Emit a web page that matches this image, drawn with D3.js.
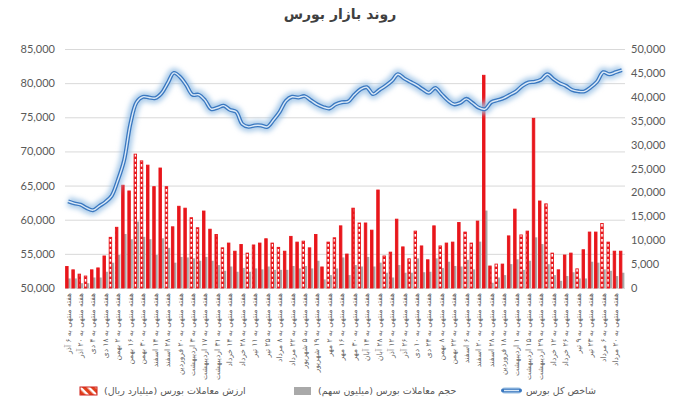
<!DOCTYPE html>
<html>
<head>
<meta charset="utf-8">
<script src="https://cdn.jsdelivr.net/npm/d3@7"></script>
<style>
  body { margin: 0; background: #fff; }
  svg text { fill: #595959; }
</style>
</head>
<body>
<svg id="chart" width="679" height="397"></svg>
<script>
// weekly categories (every other one is shown on the axis)
var weeks = [
  "۶ آذر", "۱۳ آذر", "۲۰ آذر", "۲۷ آذر", "۴ دی", "۱۱ دی", "۱۸ دی", "۲۵ دی",
  "۲ بهمن", "۹ بهمن", "۱۶ بهمن", "۲۳ بهمن", "۳۰ بهمن", "۷ اسفند", "۱۴ اسفند", "۲۱ اسفند",
  "۲۸ اسفند", "۱۳ فروردین", "۲۰ فروردین", "۲۷ فروردین", "۳ اردیبهشت", "۱۰ اردیبهشت",
  "۱۷ اردیبهشت", "۲۴ اردیبهشت", "۳۱ اردیبهشت", "۷ خرداد", "۱۴ خرداد", "۲۱ خرداد",
  "۲۸ خرداد", "۴ تیر", "۱۱ تیر", "۱۸ تیر", "۲۵ تیر", "۱ مرداد", "۸ مرداد", "۱۵ مرداد",
  "۲۲ مرداد", "۲۹ مرداد", "۵ شهریور", "۱۲ شهریور", "۱۹ شهریور", "۲۶ شهریور", "۲ مهر",
  "۹ مهر", "۱۶ مهر", "۲۳ مهر", "۳۰ مهر", "۷ آبان", "۱۴ آبان", "۲۱ آبان", "۲۸ آبان",
  "۵ آذر", "۱۲ آذر", "۱۹ آذر", "۲۶ آذر", "۳ دی", "۱۰ دی", "۱۷ دی", "۲۴ دی", "۱ بهمن",
  "۸ بهمن", "۱۵ بهمن", "۲۲ بهمن", "۲۹ بهمن", "۶ اسفند", "۱۳ اسفند", "۲۰ اسفند", "۲۴ اسفند",
  "۲۸ اسفند", "۱۱ فروردین", "۱۸ فروردین", "۲۵ فروردین", "۱ اردیبهشت", "۸ اردیبهشت",
  "۱۵ اردیبهشت", "۲۲ اردیبهشت", "۲۹ اردیبهشت", "۵ خرداد", "۱۲ خرداد", "۱۹ خرداد",
  "۲۶ خرداد", "۲ تیر", "۹ تیر", "۱۶ تیر", "۲۳ تیر", "۳۰ تیر", "۶ مرداد", "۱۳ مرداد",
  "۲۰ مرداد", "۲۷ مرداد"
];

// شاخص کل بورس (left axis)
var indexValues = [
  62700, 62400, 62200, 61700, 61400, 62000, 62600, 63500, 65800, 68700,
  74000, 77200, 78000, 77900, 77800, 78500, 80000, 81500, 80900, 79700,
  78300, 78300, 77500, 76200, 76400, 76700, 76100, 75800, 74000, 73600,
  73800, 73800, 73600, 74600, 75800, 77400, 78000, 77900, 78100, 77500,
  76900, 76500, 76300, 76900, 77200, 77300, 78300, 79100, 79400, 78400,
  79000, 79600, 80300, 81300, 80700, 80200, 79700, 79100, 78600, 79300,
  78400, 77500, 76900, 77100, 77700, 77100, 76400, 76200, 77200, 77500,
  77800, 78300, 78800, 79600, 80100, 80200, 80500, 81300, 80600, 80000,
  79600, 79000, 78800, 78800, 79400, 80200, 81600, 81300, 81600, 81900
];

// ارزش معاملات بورس (میلیارد ریال) (right axis)
var tradeValue = [
  4500, 3800, 2900, 2500, 3800, 4200, 6700, 10600, 12700, 21500,
  20300, 28000, 26600, 25700, 21200, 25100, 21200, 12800, 17100, 16700,
  14700, 12600, 16100, 12300, 11200, 8400, 9400, 7700, 9100, 7300,
  9000, 9400, 10300, 9400, 8500, 7700, 10800, 9600, 9800, 8400,
  11200, 4400, 9600, 10500, 13000, 7100, 16700, 13600, 13600, 12100,
  20500, 6700, 7500, 14400, 8600, 6100, 11900, 8800, 5900, 13000,
  8800, 9400, 9600, 13700, 11700, 9400, 14000, 44500, 4600, 5000,
  5000, 10900, 16500, 11100, 11900, 35500, 18200, 17600, 7300, 3800,
  6900, 7300, 4000, 8000, 11700, 11700, 13500, 9600, 7700, 7700
];

// حجم معاملات بورس (میلیون سهم) (right axis)
var tradeVolume = [
  2000, 2000, 1000, 1000, 2200, 2200, 3400, 5300, 6900, 11300,
  10200, 13900, 10700, 10200, 6900, 10400, 8400, 5300, 6500, 6400,
  6200, 5700, 6500, 5700, 4800, 3600, 4500, 3400, 4200, 3400,
  4100, 3900, 4500, 3800, 3800, 3800, 4600, 4100, 4600, 4100,
  5700, 1800, 2700, 4100, 6400, 2700, 4800, 4500, 6500, 4500,
  5300, 3200, 2200, 4800, 3200, 3200, 6200, 3300, 3400, 6200,
  4200, 5500, 4600, 4500, 5900, 3900, 9700, 16200, 1100, 2200,
  2700, 5000, 6000, 3800, 5700, 10600, 9200, 5000, 2700, 1500,
  2500, 3300, 2000, 2000, 5500, 5300, 3900, 3600, 2500, 3200
];

var leftTicks = [50000, 55000, 60000, 65000, 70000, 75000, 80000, 85000];
var rightTicks = [0, 5000, 10000, 15000, 20000, 25000, 30000, 35000, 40000, 45000, 50000];

var title = "روند بازار بورس";
var labelPrefix = "هفته منتهی به ";
var legendNames = ["ارزش معاملات بورس (میلیارد ریال)", "حجم معاملات بورس (میلیون سهم)", "شاخص کل بورس"];

var width = 679, height = 397;
var margin = { top: 49, right: 54, bottom: 109, left: 65 };
var plotW = width - margin.left - margin.right;
var plotH = height - margin.top - margin.bottom;
var persianFont = "'DejaVu Sans', sans-serif";
var numFont = "Lato, 'Liberation Sans', sans-serif";
var red = "#e8161b";

var svg = d3.select("#chart");
var defs = svg.append("defs");

// hatch used inside the narrow bars
var hatch = defs.append("pattern")
  .attr("id", "hatch")
  .attr("patternUnits", "userSpaceOnUse")
  .attr("x", 69.6).attr("y", 0)
  .attr("width", 27.4).attr("height", 5);
hatch.append("rect").attr("width", 27.4).attr("height", 5).attr("fill", red);
hatch.append("rect").attr("width", 8.5).attr("height", 2.6).attr("fill", "#fff");

// diagonal stripes for the legend swatch
var stripes = defs.append("pattern")
  .attr("id", "stripes")
  .attr("patternUnits", "userSpaceOnUse")
  .attr("width", 6).attr("height", 6)
  .attr("patternTransform", "rotate(-45)");
stripes.append("rect").attr("width", 6).attr("height", 6).attr("fill", "#fff");
stripes.append("rect").attr("width", 3.5).attr("height", 6).attr("fill", "#e0401c");

var glow = defs.append("filter").attr("id", "glow")
  .attr("x", "-5%").attr("y", "-20%").attr("width", "110%").attr("height", "140%");
glow.append("feGaussianBlur").attr("stdDeviation", 2.8);

// title
svg.append("text")
  .attr("x", 340).attr("y", 19)
  .attr("text-anchor", "middle")
  .style("font-family", persianFont)
  .style("font-size", "14px")
  .style("font-weight", "bold")
  .style("fill", "#404040")
  .text(title);

var g = svg.append("g").attr("transform", "translate(" + margin.left + "," + margin.top + ")");

// scales
var x = d3.scaleBand().domain(d3.range(weeks.length)).range([0, plotW])
  .paddingInner(0.2).paddingOuter(0.1);
var xSub = d3.scaleBand().domain(["value", "volume"]).range([0, x.bandwidth()]);
var yLeft = d3.scaleLinear().domain([50000, 85000]).range([plotH, 0]);
var yRight = d3.scaleLinear().domain([0, 50000]).range([plotH, 0]);

// gridlines
g.append("g")
  .call(d3.axisLeft(yLeft).tickValues(leftTicks).tickSize(-plotW).tickFormat(""))
  .call(s => s.select(".domain").remove())
  .call(s => s.selectAll("line").attr("stroke", "#d9d9d9"));

// left axis
g.append("g")
  .call(d3.axisLeft(yLeft).tickValues(leftTicks).tickSize(0).tickPadding(10).tickFormat(d3.format(",")))
  .call(s => s.select(".domain").remove())
  .call(s => s.selectAll("text").style("font-family", numFont).style("font-size", "11px").style("fill", "#595959"));

// right axis
g.append("g")
  .attr("transform", "translate(" + plotW + ",0)")
  .call(d3.axisRight(yRight).tickValues(rightTicks).tickSize(0).tickPadding(6).tickFormat(d3.format(",")))
  .call(s => s.select(".domain").remove())
  .call(s => s.selectAll("text").style("font-family", numFont).style("font-size", "11px").style("fill", "#595959"));

// bottom axis labels
g.append("g")
  .attr("transform", "translate(0," + plotH + ")")
  .call(d3.axisBottom(x)
    .tickValues(d3.range(0, weeks.length, 2))
    .tickSize(0)
    .tickFormat(i => labelPrefix + weeks[i]))
  .call(s => s.select(".domain").remove())
  .call(s => s.selectAll("text")
    .attr("transform", "translate(0,5) rotate(-90)")
    .attr("x", 0).attr("y", 0).attr("dy", "0.32em")
    .attr("text-anchor", "end")
    .style("font-family", persianFont)
    .style("font-size", "7.5px")
    .style("fill", "#666"));

// bars
var bars = g.append("g");
bars.selectAll(".vol")
  .data(tradeVolume)
  .join("rect")
  .attr("class", "vol")
  .attr("x", (d, i) => x(i) + xSub("volume"))
  .attr("width", xSub.bandwidth())
  .attr("y", d => yRight(d))
  .attr("height", d => plotH - yRight(d))
  .attr("fill", "#a9a9a9");

bars.selectAll(".val")
  .data(tradeValue)
  .join("rect")
  .attr("class", "val")
  .attr("x", (d, i) => x(i) + xSub("value"))
  .attr("width", xSub.bandwidth())
  .attr("y", d => yRight(d))
  .attr("height", d => plotH - yRight(d))
  .attr("fill", "url(#hatch)")
  .attr("stroke", red)
  .attr("stroke-width", 0.9);

// index line
var line = d3.line()
  .x((d, i) => x(i) + x.bandwidth() / 2)
  .y(d => yLeft(d))
  .curve(d3.curveCatmullRom.alpha(0.5));

g.append("path").datum(indexValues)
  .attr("d", line).attr("fill", "none")
  .attr("stroke", "#9dc3e6").attr("stroke-width", 10).attr("stroke-opacity", 0.85)
  .attr("filter", "url(#glow)");
g.append("path").datum(indexValues)
  .attr("d", line).attr("fill", "none")
  .attr("stroke", "#3a78c0").attr("stroke-width", 4);
g.append("path").datum(indexValues)
  .attr("d", line).attr("fill", "none")
  .attr("stroke", "#dbe9f7").attr("stroke-width", 1.4);

// legend
var legend = svg.append("g").style("font-family", persianFont).style("font-size", "9.5px");
var items = [
  { name: legendNames[0], sx: 80, tx: 104, kind: "value" },
  { name: legendNames[1], sx: 294, tx: 318, kind: "volume" },
  { name: legendNames[2], sx: 503, tx: 526, kind: "index" }
];
items.forEach(function(it) {
  if (it.kind === "value") {
    legend.append("rect").attr("x", it.sx).attr("y", 387).attr("width", 17).attr("height", 8)
      .attr("fill", "url(#stripes)").attr("stroke", "#d0211b").attr("stroke-width", 1);
  } else if (it.kind === "volume") {
    legend.append("rect").attr("x", it.sx).attr("y", 387).attr("width", 17).attr("height", 8)
      .attr("fill", "#a9a9a9");
  } else {
    legend.append("rect").attr("x", it.sx - 1).attr("y", 387).attr("width", 19).attr("height", 7)
      .attr("rx", 3).attr("fill", "#bdd7ee").attr("opacity", 0.8);
    legend.append("line").attr("x1", it.sx).attr("x2", it.sx + 17).attr("y1", 390.5).attr("y2", 390.5)
      .attr("stroke", "#3a78c0").attr("stroke-width", 4).attr("stroke-linecap", "round");
    legend.append("line").attr("x1", it.sx + 1).attr("x2", it.sx + 16).attr("y1", 390.5).attr("y2", 390.5)
      .attr("stroke", "#dbe9f7").attr("stroke-width", 1.4);
  }
  legend.append("text").attr("x", it.tx).attr("y", 391).attr("dy", "0.35em")
    .attr("text-anchor", "start").text(it.name);
});
</script>
</body>
</html>
